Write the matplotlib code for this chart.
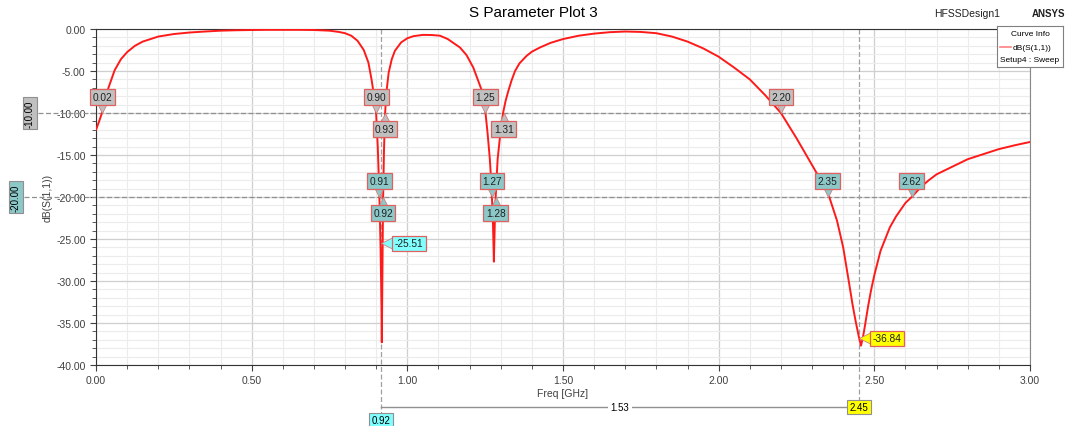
import numpy as np
import matplotlib.pyplot as plt
import matplotlib.transforms as mtransforms
from matplotlib.ticker import MultipleLocator

plt.rcParams['font.family'] = ['Liberation Sans', 'DejaVu Sans']

# courbe dB(S(1,1))
freq = [0.000, 0.010, 0.020, 0.030, 0.040, 0.060, 0.080, 0.100, 0.125, 0.150,
        0.200, 0.250, 0.300, 0.350, 0.400, 0.450, 0.500, 0.550, 0.600, 0.650,
        0.700, 0.750, 0.780, 0.800, 0.820, 0.840, 0.860, 0.875, 0.885, 0.895,
        0.900, 0.905, 0.910, 0.914, 0.917, 0.918, 0.920, 0.922, 0.925, 0.928,
        0.932, 0.940, 0.950, 0.960, 0.980, 1.000, 1.020, 1.050, 1.080, 1.105,
        1.130, 1.169, 1.190, 1.212, 1.239, 1.250, 1.258, 1.265, 1.270, 1.275,
        1.278, 1.281, 1.284, 1.290, 1.300, 1.308, 1.316, 1.325, 1.335, 1.346,
        1.360, 1.383, 1.400, 1.426, 1.460, 1.500, 1.550, 1.600, 1.650, 1.700,
        1.750, 1.800, 1.850, 1.900, 1.950, 2.000, 2.050, 2.100, 2.150, 2.200,
        2.250, 2.300, 2.350, 2.380, 2.400, 2.420, 2.430, 2.440, 2.450, 2.457,
        2.463, 2.470, 2.480, 2.490, 2.500, 2.520, 2.550, 2.570, 2.600, 2.620,
        2.650, 2.675, 2.700, 2.750, 2.800, 2.850, 2.900, 2.950, 3.000]
s11_db = [-12.0, -11.0, -9.9, -8.3, -7.0, -4.9, -3.6, -2.75, -2.0, -1.5,
          -0.9, -0.6, -0.42, -0.3, -0.2, -0.15, -0.12, -0.1, -0.1, -0.1,
          -0.12, -0.2, -0.35, -0.5, -0.8, -1.4, -2.5, -4.0, -6.0, -8.4,
          -10.2, -14.0, -19.5, -26.0, -33.0, -37.3, -29.0, -20.5, -14.5, -10.5,
          -7.8, -5.2, -3.6, -2.6, -1.6, -1.1, -0.85, -0.7, -0.72, -0.8,
          -1.2, -2.2, -3.1, -4.6, -7.3, -9.6, -12.5, -15.5, -18.5, -23.0,
          -27.7, -23.0, -19.8, -15.5, -12.0, -9.9, -8.5, -7.3, -6.1, -5.0,
          -4.1, -3.2, -2.7, -2.2, -1.65, -1.2, -0.8, -0.55, -0.38, -0.3,
          -0.35, -0.5, -0.9, -1.5, -2.3, -3.3, -4.6, -6.0, -7.9, -10.0,
          -13.0, -16.2, -19.4, -22.8, -26.0, -30.5, -32.8, -34.8, -36.6, -37.7,
          -36.8, -35.3, -33.0, -31.0, -29.3, -26.4, -23.6, -22.3, -20.7, -20.0,
          -18.8, -18.0, -17.3, -16.4, -15.5, -14.9, -14.3, -13.85, -13.45]

# marqueurs de croisement à -10 dB et -20 dB
mark10_f = [0.02, 0.90, 0.928, 1.25, 1.31, 2.20]
mark10_txt = ['0.02', '0.90', '0.93', '1.25', '1.31', '2.20']
mark10_up = [True, True, False, True, False, True]
mark20_f = [0.91, 0.922, 1.272, 1.284, 2.35, 2.62]
mark20_txt = ['0.91', '0.92', '1.27', '1.28', '2.35', '2.62']
mark20_up = [True, False, True, False, True, True]

# curseurs en x
cur1_f, cur1_db, cur1_txt, cur1_lab = 0.915, -25.51, '-25.51', '0.92'
cur2_f, cur2_db, cur2_txt, cur2_lab = 2.45, -36.84, '-36.84', '2.45'
delta_txt = '1.53'

fig = plt.figure(figsize=(10.67, 4.27), dpi=100)
ax = fig.add_axes([96 / 1067, 1 - 366 / 427, 934 / 1067, 336 / 427])

ax.plot(freq, s11_db, color='#ff1a1a', lw=1.4, zorder=3)

ax.set_xlim(0, 3)
ax.set_ylim(-40, 0)
ax.xaxis.set_major_locator(MultipleLocator(0.5))
ax.xaxis.set_minor_locator(MultipleLocator(0.1))
ax.yaxis.set_major_locator(MultipleLocator(5))
ax.yaxis.set_minor_locator(MultipleLocator(1))
ax.xaxis.set_major_formatter(lambda v, p: f'{v:.2f}')
ax.yaxis.set_major_formatter(lambda v, p: f'{v:.2f}')
ax.grid(True, which='major', color='#cfcfcf', lw=0.9)
ax.grid(True, which='minor', color='#ececec', lw=0.8)
ax.tick_params(which='both', labelsize=7.5, labelcolor='#404040', color='#404040')
ax.tick_params(which='major', length=4)
ax.tick_params(which='minor', length=3)
for s in ax.spines.values():
    s.set_color('#333333')
ax.spines['right'].set_color('#888888')

ax.set_xlabel('Freq [GHz]', fontsize=7.5, color='#404040', labelpad=2)
ax.set_ylabel('dB(S(1,1))', fontsize=7.5, color='#404040')
ax.yaxis.set_label_coords(-0.046, 0.5)
fig.text(533 / 1067, 1 - 13 / 427, 'S Parameter Plot 3', ha='center', va='center', fontsize=11)
fig.text(1000 / 1067, 1 - 14 / 427, 'HFSSDesign1', ha='right', va='center', fontsize=7.5, color='#202020')
fig.text(1065 / 1067, 1 - 14 / 427, 'ANSYS', ha='right', va='center', fontsize=7, color='#202020', weight='bold')

# curseurs horizontaux (-10 et -20)
tr_y = mtransforms.blended_transform_factory(ax.transAxes, ax.transData)
ax.plot([-0.062, 1], [-10, -10], ls=(0, (4, 2)), color='#909090', lw=0.9, transform=tr_y, clip_on=False)
ax.plot([-0.077, 1], [-20, -20], ls=(0, (4, 2)), color='#909090', lw=0.9, transform=tr_y, clip_on=False)
ax.text(-0.0707, -10, '-10.00', rotation=90, ha='center', va='center', fontsize=7, transform=tr_y,
        bbox=dict(boxstyle='square,pad=0.25', fc='#c0c0c0', ec='#909090', lw=0.8))
ax.text(-0.0857, -20, '-20.00', rotation=90, ha='center', va='center', fontsize=7, transform=tr_y,
        bbox=dict(boxstyle='square,pad=0.25', fc='#8cc8c8', ec='#909090', lw=0.8))

# curseurs verticaux
tr_x = mtransforms.blended_transform_factory(ax.transData, ax.transAxes)
ax.plot([cur1_f, cur1_f], [1, -0.15], ls=(0, (4, 2)), color='#a0a0a0', lw=0.9, transform=tr_x, clip_on=False)
ax.plot([cur2_f, cur2_f], [1, -0.11], ls=(0, (4, 2)), color='#a0a0a0', lw=0.9, transform=tr_x, clip_on=False)
ax.text(cur1_f, -0.164, cur1_lab, ha='center', va='center', fontsize=7, transform=tr_x,
        bbox=dict(boxstyle='square,pad=0.25', fc='#80ffff', ec='#909090', lw=0.8))
ax.text(cur2_f, -0.125, cur2_lab, ha='center', va='center', fontsize=7, transform=tr_x,
        bbox=dict(boxstyle='square,pad=0.25', fc='#ffff00', ec='#909090', lw=0.8))
ax.plot([cur1_f, cur2_f], [-0.125, -0.125], color='#909090', lw=1, transform=tr_x, clip_on=False)
ax.text((cur1_f + cur2_f) / 2, -0.125, delta_txt, ha='center', va='center', fontsize=7, transform=tr_x,
        bbox=dict(boxstyle='square,pad=0.3', fc='white', ec='none'))


def pointeur(f, db, dx, dy, marker, fc):
    # triangle dont la pointe touche le point de la courbe
    tr = mtransforms.offset_copy(ax.transData, fig=fig, x=dx, y=dy, units='dots')
    ax.plot([f], [db], marker=marker, ms=8.5, mfc=fc, mec='#d08080', mew=0.6,
            transform=tr, zorder=5, clip_on=False)


def marqueur(f, db, txt, up, fc):
    dy = 16 if up else -16
    pointeur(f, db, 0, 6 if up else -6, 'v' if up else '^', fc)
    ax.annotate(txt, xy=(f, db), xytext=(0, dy), textcoords='offset pixels',
                ha='center', va='center', fontsize=7.3, color='#202020', zorder=6,
                bbox=dict(boxstyle='square,pad=0.25', fc=fc, ec='#e06060', lw=0.9))


for f, t, u in zip(mark10_f, mark10_txt, mark10_up):
    marqueur(f, -10, t, u, '#c0c0c0')
for f, t, u in zip(mark20_f, mark20_txt, mark20_up):
    marqueur(f, -20, t, u, '#8cc8c8')

for f, db, t, fc in [(cur1_f, cur1_db, cur1_txt, '#80ffff'), (cur2_f, cur2_db, cur2_txt, '#ffff00')]:
    pointeur(f, db, 6, 0, '<', fc)
    ax.annotate(t, xy=(f, db), xytext=(28, 0), textcoords='offset pixels',
                ha='center', va='center', fontsize=7.3, color='#202020', zorder=6,
                bbox=dict(boxstyle='square,pad=0.25', fc=fc, ec='#e06060', lw=0.9))

# boîte d'info courbe
lg = fig.add_axes([997 / 1067, 1 - 68 / 427, 66 / 1067, 41 / 427])
lg.set_xlim(0, 66)
lg.set_ylim(41, 0)
lg.set_xticks([])
lg.set_yticks([])
for s in lg.spines.values():
    s.set_color('#808080')
lg.text(33, 8, 'Curve Info', ha='center', va='center', fontsize=6)
lg.plot([3, 14], [21, 21], color='#ff8080', lw=1.2)
lg.text(16, 21, 'dB(S(1,1))', ha='left', va='center', fontsize=6)
lg.text(3, 33, 'Setup4 : Sweep', ha='left', va='center', fontsize=6)

fig.savefig('out.png', dpi=100)
